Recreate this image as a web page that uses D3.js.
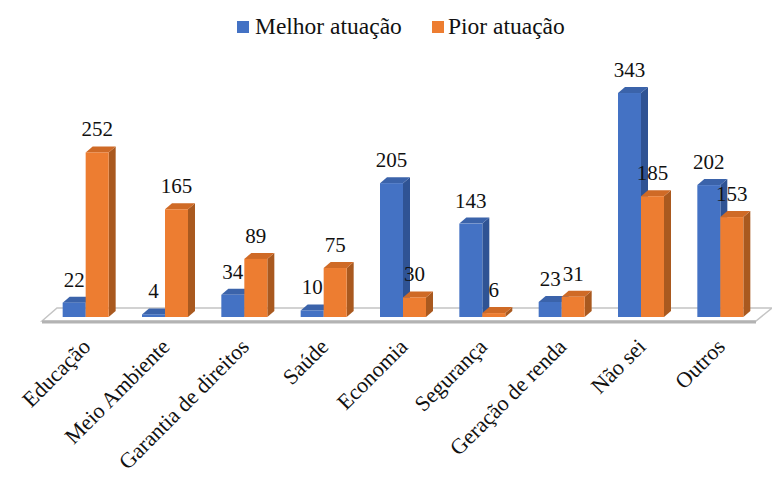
<!DOCTYPE html>
<html>
<head>
<meta charset="utf-8">
<script src="https://cdn.jsdelivr.net/npm/d3@7"></script>
</head>
<body style="margin:0">
<svg id="fig" width="772" height="481"></svg>
<script>
const categories = ["Educação", "Meio Ambiente", "Garantia de direitos", "Saúde", "Economia", "Segurança", "Geração de renda", "Não sei", "Outros"];
const seriesNames = ["Melhor atuação", "Pior atuação"];
const melhor = [22, 4, 34, 10, 205, 143, 23, 343, 202];
const pior = [252, 165, 89, 75, 30, 6, 31, 185, 153];

const palette = {
  "Melhor atuação": { front: "#4472C4", top: "#3B63AA", side: "#2F5394" },
  "Pior atuação":   { front: "#ED7D31", top: "#CF6A26", side: "#A9591F" }
};

const svg = d3.select("#fig");
const y0 = 317;           // front baseline of the bars
const dx = 7, dy = -6;    // 3D depth offset

const x = d3.scaleBand().domain(categories).range([46, 760]).padding(0);
const inner = d3.scaleBand().domain(seriesNames).range([-23, 23]).padding(0);
const y = d3.scaleLinear().domain([0, 400]).range([y0, y0 - 0.653 * 400]);

function serif(sel, size) {
  return sel.style("font-family", `"Liberation Serif", "Times New Roman", serif`, "important")
    .style("font-size", size + "px", "important")
    .style("fill", "#111");
}

// Floor
const floor = svg.append("g");
floor.append("polygon")
  .attr("points", [[42, 321], [57, 308], [772, 308], [756, 321]].map(p => p.join(",")).join(" "))
  .attr("fill", "#ffffff").attr("stroke", "#c4c4c4").attr("stroke-width", 1.5);
floor.append("rect").attr("x", 42).attr("y", 320.5).attr("width", 714).attr("height", 3)
  .attr("fill", "#b3b3b3");

const rows = categories.map((c, i) => ({ cat: c, values: [
  { s: seriesNames[0], v: melhor[i] },
  { s: seriesNames[1], v: pior[i] }
]}));

const bw = inner.bandwidth();
const barsG = svg.append("g");
rows.forEach(r => {
  const cx = x(r.cat) + x.bandwidth() / 2;
  r.values.forEach(d => {
    const bx = cx + inner(d.s);
    const yt = y(d.v);
    const col = palette[d.s];
    const g = barsG.append("g");
    g.append("polygon")
      .attr("points", [[bx + bw, yt], [bx + bw + dx, yt + dy], [bx + bw + dx, y0 + dy], [bx + bw, y0]].map(p => p.join(",")).join(" "))
      .attr("fill", col.side);
    g.append("polygon")
      .attr("points", [[bx, yt], [bx + dx, yt + dy], [bx + bw + dx, yt + dy], [bx + bw, yt]].map(p => p.join(",")).join(" "))
      .attr("fill", col.top);
    g.append("rect")
      .attr("x", bx).attr("y", yt).attr("width", bw).attr("height", y0 - yt)
      .attr("fill", col.front);
  });
});

// Value labels
rows.forEach(r => {
  const cx = x(r.cat) + x.bandwidth() / 2;
  r.values.forEach(d => {
    serif(svg.append("text"), 21)
      .attr("x", cx + inner(d.s) + bw / 2)
      .attr("y", y(d.v) - 16)
      .attr("text-anchor", "middle")
      .text(d.v);
  });
});

// Category axis
const axisG = svg.append("g")
  .attr("transform", `translate(0, 348)`)
  .call(d3.axisBottom(x).tickSize(0).tickPadding(0));
axisG.select(".domain").remove();
serif(axisG, 22);
serif(axisG.selectAll(".tick text"), 22)
  .attr("x", 0).attr("y", 0).attr("dy", 0)
  .attr("text-anchor", "end")
  .attr("transform", "translate(6,0) rotate(-45)");

// Legend
const legendItems = [
  { s: seriesNames[0], sx: 237, tx: 255 },
  { s: seriesNames[1], sx: 432, tx: 448 }
];
const lg = svg.append("g");
legendItems.forEach(it => {
  lg.append("rect").attr("x", it.sx).attr("y", 21).attr("width", 12).attr("height", 12)
    .attr("fill", palette[it.s].front);
  serif(lg.append("text"), 23.5).attr("x", it.tx).attr("y", 34).text(it.s);
});
</script>
</body>
</html>
